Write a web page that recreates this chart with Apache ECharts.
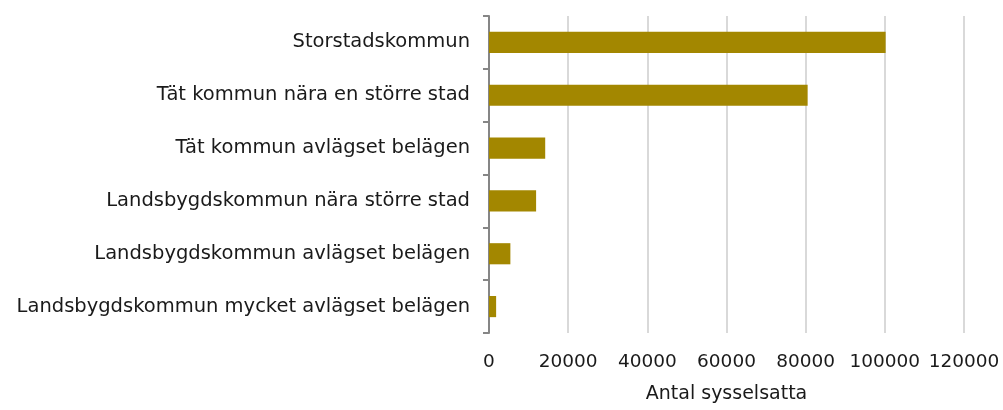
<!DOCTYPE html>
<html>
<head>
<meta charset="utf-8">
<script src="https://cdn.jsdelivr.net/npm/echarts@6/dist/echarts.min.js"></script>
<style>
  html, body { margin: 0; padding: 0; background: #fff; }
  #chart { width: 1003px; height: 410px; }
</style>
</head>
<body>
<div id="chart"></div>
<script>
// kommungrupper, uppifrån och ned
const categories = [
  'Storstadskommun',
  'Tät kommun nära en större stad',
  'Tät kommun avlägset belägen',
  'Landsbygdskommun nära större stad',
  'Landsbygdskommun avlägset belägen',
  'Landsbygdskommun mycket avlägset belägen'
];
// antal sysselsatta
const values = [100200, 80500, 14200, 11900, 5400, 1800];
const xTicks = { min: 0, max: 120000, interval: 20000 };

const font = 'DejaVu Sans';
const chart = echarts.init(document.getElementById('chart'));
chart.setOption({
  animation: false,
  grid: { left: 489, right: 39, top: 16, bottom: 77, containLabel: false },
  xAxis: {
    type: 'value',
    min: xTicks.min,
    max: xTicks.max,
    interval: xTicks.interval,
    name: 'Antal sysselsatta',
    nameLocation: 'middle',
    nameGap: 52,
    nameTextStyle: { fontFamily: font, fontSize: 19, color: '#1a1a1a' },
    axisLine: { show: false },
    axisTick: { show: false },
    axisLabel: {
      fontFamily: font, fontSize: 18.5, color: '#1a1a1a', margin: 20,
      formatter: v => String(v)
    },
    splitLine: { lineStyle: { color: '#d9d9d9', width: 2 } }
  },
  yAxis: {
    type: 'category',
    inverse: true,
    data: categories,
    axisLine: { lineStyle: { color: '#868686', width: 2 } },
    axisTick: { show: true, length: 6, inside: false, lineStyle: { color: '#868686', width: 2 } },
    axisLabel: { fontFamily: font, fontSize: 19.5, color: '#1a1a1a', margin: 19 }
  },
  series: [{
    type: 'bar',
    data: values,
    barWidth: '40%',
    itemStyle: { color: '#a38700' }
  }]
});
</script>
</body>
</html>
